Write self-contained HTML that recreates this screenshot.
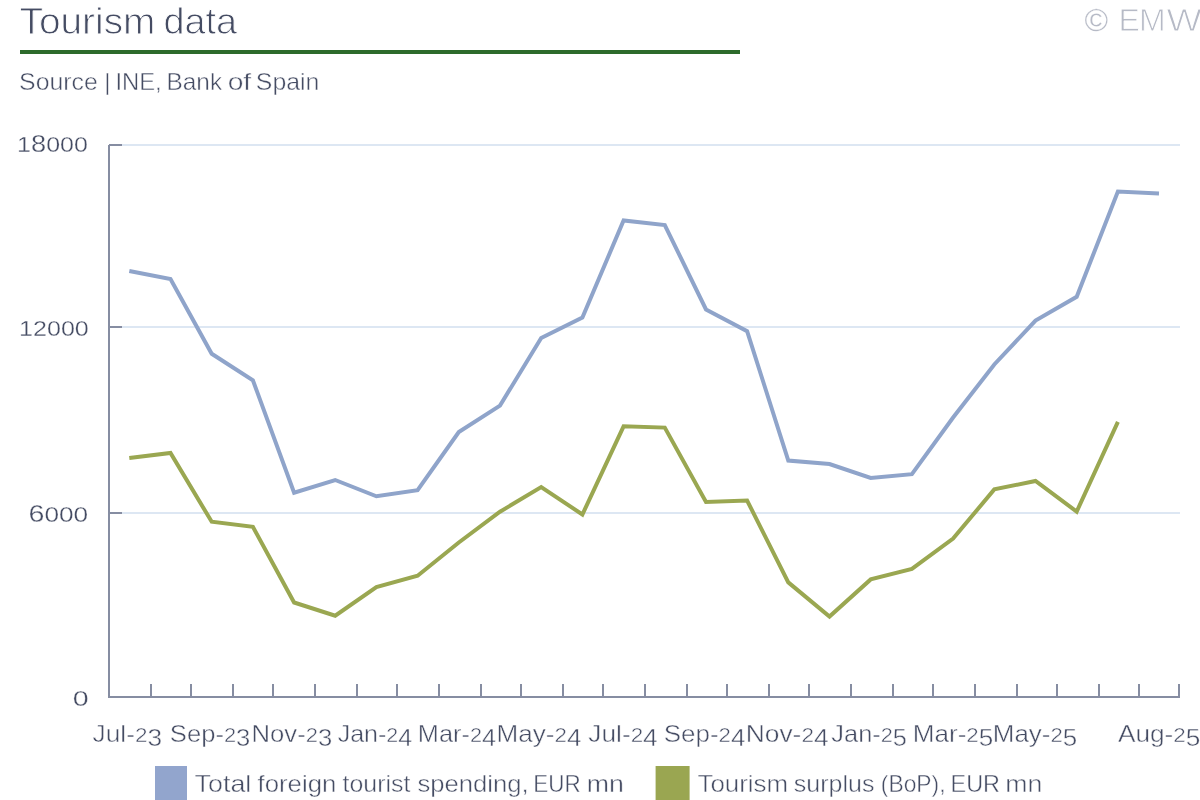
<!DOCTYPE html>
<html lang="en">
<head>
<meta charset="utf-8">
<title>Tourism data</title>
<style>
  html, body { margin: 0; padding: 0; background: #ffffff; }
  body { width: 1200px; height: 800px; overflow: hidden; }
  svg { display: block; }
  text { font-family: "Liberation Sans", sans-serif; fill: #454c63; stroke: #ffffff; stroke-width: 0.45px; stroke-linejoin: round; }
  svg { will-change: transform; opacity: 0.9999; }
  .title { font-size: 36px; stroke-width: 0.9px; }
  .sub { font-size: 24px; }
  .copy { font-size: 32px; fill: #b6bac6; stroke-width: 0.9px; }
  .ax text { font-size: 24px; }
  .yl text { font-size: 22px; stroke-width: 0.3px; }
  .lg text { font-size: 24px; }
</style>
</head>
<body>
<svg width="1200" height="800" viewBox="0 0 1200 800">
  <rect x="0" y="0" width="1200" height="800" fill="#ffffff"/>
  <!-- header -->
  <text class="title" y="33.9"><tspan x="19.58" textLength="135.80" lengthAdjust="spacingAndGlyphs">Tourism</tspan> <tspan x="163.40" textLength="73.71" lengthAdjust="spacingAndGlyphs">data</tspan></text>
  <rect x="20" y="50" width="720" height="4" fill="#2d6b2b"/>
  <text class="sub" y="90"><tspan x="19.09" textLength="78.64" lengthAdjust="spacingAndGlyphs">Source</tspan> <tspan x="104.2">|</tspan> <tspan x="115.38" textLength="46.26" lengthAdjust="spacingAndGlyphs">INE,</tspan> <tspan x="166.55" textLength="55.54" lengthAdjust="spacingAndGlyphs">Bank</tspan> <tspan x="227.65" textLength="23.53" lengthAdjust="spacingAndGlyphs">of</tspan> <tspan x="255.88" textLength="63.53" lengthAdjust="spacingAndGlyphs">Spain</tspan></text>
  <text class="copy" y="30.8"><tspan x="1084.6" stroke-width="0.2">©</tspan><tspan x="1108 1118.5 1138.9"> EM</tspan><tspan x="1166.4" textLength="35.3" lengthAdjust="spacingAndGlyphs">W</tspan></text>

  <!-- gridlines -->
  <g stroke="#dde7f3" stroke-width="2">
    <line x1="122" y1="145" x2="1180" y2="145"/>
    <line x1="122" y1="327" x2="1180" y2="327"/>
    <line x1="122" y1="513" x2="1180" y2="513"/>
  </g>

  <!-- series -->
  <polyline fill="none" stroke="#8fa4ca" stroke-width="4" stroke-linejoin="miter" points="129.3,271 170.5,279 211.7,353.75 252.9,380.25 294.1,492.75 335.2,480 376.4,496.25 417.6,490.25 458.8,432 500.0,405.6 541.2,338 582.4,317.5 623.6,220.5 664.8,225 706.0,309.5 747.1,331.25 788.3,460.5 829.5,464 870.7,478 911.9,474.2 953.1,417.5 994.3,364.5 1035.5,320.6 1076.7,296.8 1117.9,191.6 1159.0,193.6"/>
  <polyline fill="none" stroke="#9aa751" stroke-width="4" stroke-linejoin="miter" points="129.3,458 170.5,453 211.7,521.75 252.9,526.75 294.1,602.5 335.2,615.75 376.4,587 417.6,575.75 458.8,542.5 500.0,511.75 541.2,487 582.4,514.5 623.6,426.3 664.8,427.6 706.0,502 747.1,500.5 788.3,582.4 829.5,616.6 870.7,579.4 911.9,568.9 953.1,538.6 994.3,489.4 1035.5,481 1076.7,511.6 1117.9,421.9"/>

  <!-- axes -->
  <g stroke="#868da2" stroke-width="2" fill="none">
    <polyline points="109,145 109,697 1180,697"/>
    <line x1="109" y1="145" x2="122" y2="145"/>
    <line x1="109" y1="327" x2="122" y2="327"/>
    <line x1="109" y1="513" x2="122" y2="513"/>
    <path d="M151 684V697 M191 684V697 M233 684V697 M273 684V697 M315 684V697 M357 684V697 M397 684V697 M439 684V697 M481 684V697 M521 684V697 M563 684V697 M603 684V697 M645 684V697 M687 684V697 M727 684V697 M769 684V697 M809 684V697 M851 684V697 M893 684V697 M933 684V697 M975 684V697 M1017 684V697 M1057 684V697 M1099 684V697 M1139 684V697 M1179 684V697"/>
  </g>

  <!-- y labels -->
  <g class="yl">
    <text x="17.09" y="152" textLength="70.79" lengthAdjust="spacingAndGlyphs">1<tspan font-size="24">8</tspan>000</text>
    <text x="19.13" y="336" textLength="69.65" lengthAdjust="spacingAndGlyphs">12000</text>
    <text x="28.47" y="522" textLength="59.69" lengthAdjust="spacingAndGlyphs"><tspan font-size="24">6</tspan>000</text>
    <text x="72.70" y="706" textLength="15.92" lengthAdjust="spacingAndGlyphs">0</text>
  </g>

  <!-- x labels -->
  <g class="ax">
    <text x="92.62" y="742" textLength="69.44" lengthAdjust="spacingAndGlyphs">Jul-<tspan font-size="20.5">2</tspan><tspan dy="4">3</tspan></text>
    <text x="169.87" y="742" textLength="80.45" lengthAdjust="spacingAndGlyphs">Sep-<tspan font-size="20.5">2</tspan><tspan dy="4">3</tspan></text>
    <text x="251.55" y="742" textLength="80.70" lengthAdjust="spacingAndGlyphs">Nov-<tspan font-size="20.5">2</tspan><tspan dy="4">3</tspan></text>
    <text x="337.66" y="742" textLength="74.58" lengthAdjust="spacingAndGlyphs">Jan-<tspan font-size="20.5">2</tspan><tspan dy="4">4</tspan></text>
    <text x="417.89" y="742" textLength="78.27" lengthAdjust="spacingAndGlyphs">Mar-<tspan font-size="20.5">2</tspan><tspan dy="4">4</tspan></text>
    <text x="496.55" y="742" textLength="84.89" lengthAdjust="spacingAndGlyphs">May-<tspan font-size="20.5">2</tspan><tspan dy="4">4</tspan></text>
    <text x="588.32" y="742" textLength="69.44" lengthAdjust="spacingAndGlyphs">Jul-<tspan font-size="20.5">2</tspan><tspan dy="4">4</tspan></text>
    <text x="663.74" y="742" textLength="81.69" lengthAdjust="spacingAndGlyphs">Sep-<tspan font-size="20.5">2</tspan><tspan dy="4">4</tspan></text>
    <text x="745.81" y="742" textLength="82.77" lengthAdjust="spacingAndGlyphs">Nov-<tspan font-size="20.5">2</tspan><tspan dy="4">4</tspan></text>
    <text x="831.36" y="742" textLength="75.60" lengthAdjust="spacingAndGlyphs">Jan-<tspan font-size="20.5">2</tspan><tspan dy="4">5</tspan></text>
    <text x="912.83" y="742" textLength="80.36" lengthAdjust="spacingAndGlyphs">Mar-<tspan font-size="20.5">2</tspan><tspan dy="4">5</tspan></text>
    <text x="992.85" y="742" textLength="84.36" lengthAdjust="spacingAndGlyphs">May-<tspan font-size="20.5">2</tspan><tspan dy="4">5</tspan></text>
    <text x="1117.91" y="742" textLength="82.45" lengthAdjust="spacingAndGlyphs">Aug-<tspan font-size="20.5">2</tspan><tspan dy="4">5</tspan></text>
  </g>

  <!-- legend -->
  <g class="lg">
    <rect x="155" y="766" width="32" height="34" fill="#92a5cd"/>
    <text y="792"><tspan x="194.57" textLength="56.74" lengthAdjust="spacingAndGlyphs">Total</tspan> <tspan x="257.59" textLength="78.73" lengthAdjust="spacingAndGlyphs">foreign</tspan> <tspan x="342.59" textLength="67.80" lengthAdjust="spacingAndGlyphs">tourist</tspan> <tspan x="417.51" textLength="111.16" lengthAdjust="spacingAndGlyphs">spending,</tspan> <tspan x="533.35" textLength="47.34" lengthAdjust="spacingAndGlyphs">EUR</tspan> <tspan x="586.78" textLength="37.16" lengthAdjust="spacingAndGlyphs">mn</tspan></text>
    <rect x="655.6" y="766" width="34" height="34" fill="#9aa651"/>
    <text y="792"><tspan x="697.45" textLength="90.71" lengthAdjust="spacingAndGlyphs">Tourism</tspan> <tspan x="793.85" textLength="80.58" lengthAdjust="spacingAndGlyphs">surplus</tspan> <tspan x="880.82" textLength="64.69" lengthAdjust="spacingAndGlyphs">(BoP),</tspan> <tspan x="950.56" textLength="49.49" lengthAdjust="spacingAndGlyphs">EUR</tspan> <tspan x="1005.26" textLength="37.03" lengthAdjust="spacingAndGlyphs">mn</tspan></text>
  </g>
</svg>
</body>
</html>
